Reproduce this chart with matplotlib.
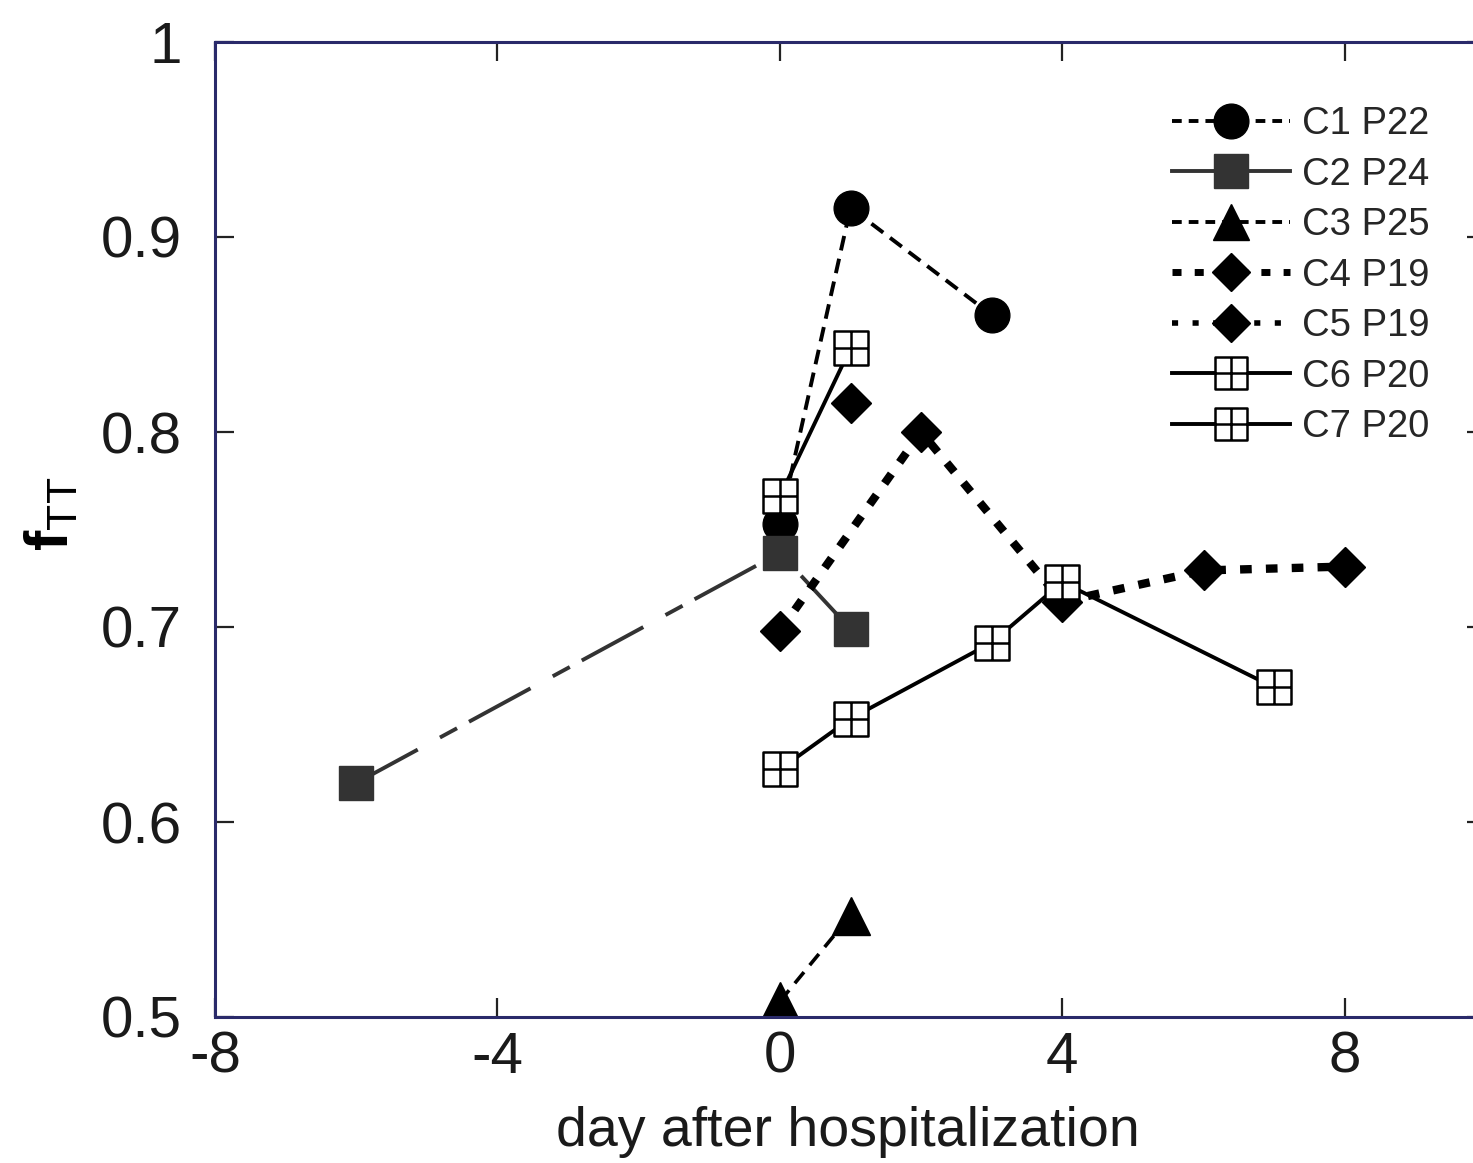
import matplotlib
matplotlib.use("Agg")
import matplotlib.pyplot as plt
from matplotlib.path import Path
from matplotlib.lines import Line2D

plt.rcParams["font.family"] = ["Liberation Sans", "DejaVu Sans"]
plt.rcParams["mathtext.fontset"] = "custom"
plt.rcParams["mathtext.rm"] = "Liberation Sans"
plt.rcParams["mathtext.bf"] = "Liberation Sans:bold"
plt.rcParams["axes.unicode_minus"] = False

# ---------- data ----------
c1_day = [0, 1, 3]
c1_f = [0.753, 0.915, 0.860]
c2_day = [-6, 0, 1]
c2_f = [0.620, 0.738, 0.699]
c3_day = [0, 1]
c3_f = [0.508, 0.552]
c4_day = [0, 2, 4, 6, 8]
c4_f = [0.698, 0.800, 0.713, 0.729, 0.731]
c5_day = [1]
c5_f = [0.815]
c6_day = [0, 1]
c6_f = [0.767, 0.843]
c7_day = [0, 1, 3, 4, 7]
c7_f = [0.627, 0.653, 0.692, 0.723, 0.669]
labels = ["C1 P22", "C2 P24", "C3 P25", "C4 P19", "C5 P19", "C6 P20", "C7 P20"]

# open square with a cross inside
grid_sq = Path(
    [(-1, -1), (1, -1), (1, 1), (-1, 1), (-1, -1), (0, -1), (0, 1), (-1, 0), (1, 0)],
    [Path.MOVETO, Path.LINETO, Path.LINETO, Path.LINETO, Path.CLOSEPOLY,
     Path.MOVETO, Path.LINETO, Path.MOVETO, Path.LINETO],
)

fig = plt.figure(figsize=(14.73, 11.63), dpi=100)
W, H = 1473, 1163
ax = fig.add_axes([215 / W, (H - 1017) / H, (1486 - 215) / W, (1017 - 42) / H])

K = "black"
ax.plot(c1_day, c1_f, color=K, lw=2.8, dashes=(3.8, 2.2), marker="o", ms=25, mfc=K, mec=K)
ax.plot(c2_day, c2_f, color="#333333", lw=2.8, dashes=(18, 6.5, 5, 3.5), marker="s", ms=25,
        mfc="#333333", mec="#333333")
ax.plot(c3_day, c3_f, color=K, lw=2.6, dashes=(4, 2.5), marker="^", ms=27, mfc=K, mec=K)
ax.plot(c4_day, c4_f, color=K, lw=6, dashes=(1.4, 1.7), marker="D", ms=20, mfc=K, mec=K)
ax.plot(c5_day, c5_f, color=K, lw=3.5, dashes=(1.2, 3), marker="D", ms=20, mfc=K, mec=K)
ax.plot(c6_day, c6_f, color=K, lw=2.8, marker=grid_sq, ms=24, mfc="white", mec=K, mew=1.8)
ax.plot(c7_day, c7_f, color=K, lw=2.8, marker=grid_sq, ms=24, mfc="white", mec=K, mew=1.8)

ax.set_xlim(-8, 10)
ax.set_ylim(0.5, 1.0)
ax.set_xticks([-8, -4, 0, 4, 8])
ax.set_yticks([0.5, 0.6, 0.7, 0.8, 0.9, 1.0])
ax.set_yticklabels(["0.5", "0.6", "0.7", "0.8", "0.9", "1"])
ax.tick_params(direction="in", length=14, width=1.6, color="#222222", labelsize=42,
               labelcolor="#1a1a1a", top=True, right=True)
ax.tick_params(axis="x", pad=10)
ax.tick_params(axis="y", pad=24)
for sp in ax.spines.values():
    sp.set_color("#2a2a6a")
    sp.set_linewidth(2.2)

fig.text(848 / W, 1 - 1132 / H, "day after hospitalization", fontsize=40,
         color="#1a1a1a", ha="center", va="center")
fig.text(52 / W, 1 - 514 / H, r"$\mathbf{f}_{\mathrm{TT}}$", fontsize=44, rotation=90,
         ha="center", va="center")

# legend uses its own line styles
handles = [
    Line2D([], [], color=K, lw=2.8, dashes=(2.5, 1.8), marker="o", ms=25),
    Line2D([], [], color="#333333", lw=2.8, marker="s", ms=25),
    Line2D([], [], color=K, lw=2.8, dashes=(2.5, 1.8), marker="^", ms=26),
    Line2D([], [], color=K, lw=5, dashes=(1.3, 1.9), marker="D", ms=19),
    Line2D([], [], color=K, lw=4, dashes=(1.1, 2.6), marker="D", ms=19),
    Line2D([], [], color=K, lw=2.8, marker=grid_sq, ms=23, mfc="white", mew=1.8),
    Line2D([], [], color=K, lw=2.8, marker=grid_sq, ms=23, mfc="white", mew=1.8),
]
fig.legend(handles, labels, loc="upper left", bbox_to_anchor=(1172 / W, 1 - 106 / H),
           frameon=False, fontsize=27.5, labelcolor="#262626", handlelength=3.1,
           handletextpad=0.3, labelspacing=0.38, borderpad=0, borderaxespad=0)

fig.savefig("out.png", dpi=100)
